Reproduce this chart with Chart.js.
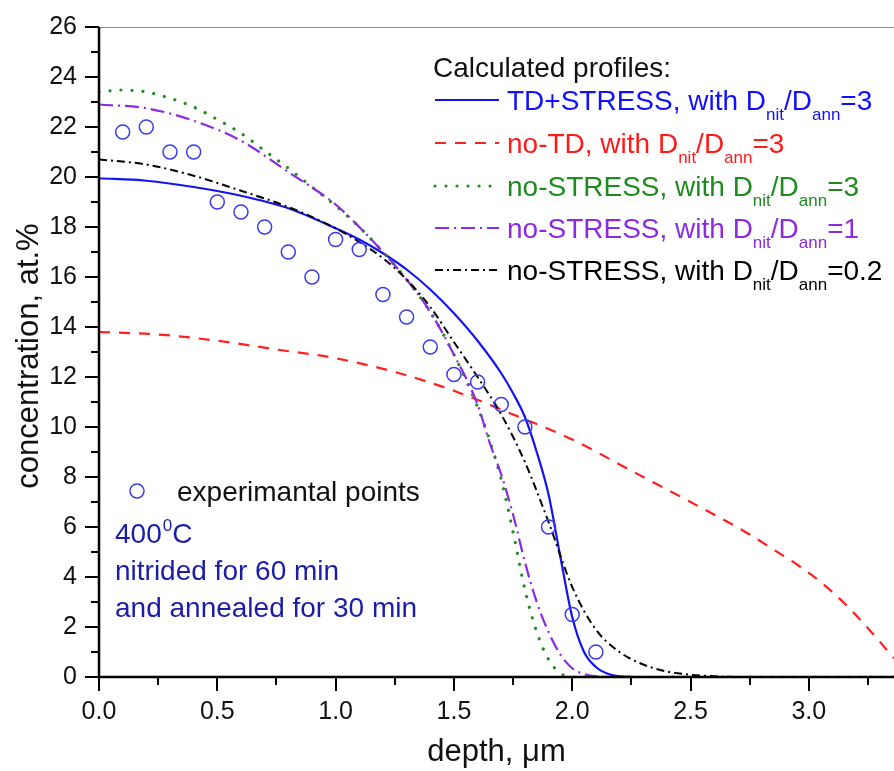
<!DOCTYPE html>
<html>
<head>
<meta charset="utf-8">
<script src="https://cdn.jsdelivr.net/npm/chart.js@4.4.1/dist/chart.umd.min.js"></script>
<style>
  html, body { margin: 0; padding: 0; background: #ffffff; }
  #c { display: block; }
</style>
</head>
<body>
<canvas id="c" width="894" height="771" style="width:894px;height:771px"></canvas>
<script>
// ---------------- data ----------------
const xTickLabels = ['0.0', '0.5', '1.0', '1.5', '2.0', '2.5', '3.0'];
const yTickLabels = ['0', '2', '4', '6', '8', '10', '12', '14', '16', '18', '20', '22', '24', '26'];

// experimental points
const expDepth = [0.1, 0.2, 0.3, 0.4, 0.5, 0.6, 0.7, 0.8, 0.9, 1.0, 1.1, 1.2, 1.3, 1.4, 1.5, 1.6, 1.7, 1.8, 1.9, 2.0, 2.1];
const expConc  = [21.8, 22.0, 21.0, 21.0, 19.0, 18.6, 18.0, 17.0, 16.0, 17.5, 17.1, 15.3, 14.4, 13.2, 12.1, 11.8, 10.9, 10.0, 6.0, 2.5, 1.0];

// TD+STRESS, Dnit/Dann = 3 (blue solid)
const tdStressDepth = [0, 0.2, 0.4, 0.6, 0.8, 1.0, 1.1, 1.2, 1.3, 1.4, 1.5, 1.6, 1.7, 1.75, 1.8, 1.85, 1.9, 1.95, 2.0, 2.05, 2.1, 2.15, 2.2, 2.3, 3.36];
const tdStressConc  = [19.95, 19.85, 19.6, 19.25, 18.75, 17.95, 17.5, 16.95, 16.3, 15.5, 14.55, 13.45, 12.15, 11.35, 10.4, 9.0, 7.3, 4.8, 2.4, 1.0, 0.4, 0.13, 0.03, 0, 0];

// no-TD, Dnit/Dann = 3 (red dashed)
const noTdDepth = [0, 0.25, 0.5, 0.75, 1.0, 1.25, 1.5, 1.75, 2.0, 2.25, 2.5, 2.75, 2.85, 2.95, 3.05, 3.15, 3.25, 3.36];
const noTdConc  = [13.8, 13.7, 13.45, 13.1, 12.75, 12.2, 11.45, 10.5, 9.5, 8.25, 7.0, 5.7, 5.1, 4.5, 3.8, 2.95, 1.95, 0.75];

// no-STRESS, Dnit/Dann = 3 (green dotted)
const noStress3Depth = [0, 0.1, 0.2, 0.3, 0.4, 0.5, 0.6, 0.7, 0.8, 0.9, 1.0, 1.1, 1.2, 1.3, 1.4, 1.5, 1.6, 1.65, 1.7, 1.75, 1.8, 1.85, 1.9, 1.95, 2.0, 3.36];
const noStress3Conc  = [23.4, 23.48, 23.4, 23.15, 22.8, 22.3, 21.75, 21.05, 20.35, 19.6, 18.85, 18.0, 17.0, 15.9, 14.6, 12.9, 10.8, 9.5, 7.9, 5.8, 3.5, 1.8, 0.7, 0.15, 0, 0];

// no-STRESS, Dnit/Dann = 1 (purple dash-dot)
const noStress1Depth = [0, 0.2, 0.4, 0.6, 0.8, 1.0, 1.1, 1.2, 1.3, 1.4, 1.5, 1.6, 1.65, 1.7, 1.75, 1.8, 1.85, 1.9, 1.95, 2.0, 2.05, 2.1, 2.2, 3.36];
const noStress1Conc  = [22.9, 22.75, 22.25, 21.45, 20.2, 18.9, 18.0, 17.0, 15.9, 14.6, 12.9, 10.9, 9.4, 8.1, 6.5, 4.6, 3.0, 1.8, 0.9, 0.35, 0.12, 0.03, 0, 0];

// no-STRESS, Dnit/Dann = 0.2 (black dash-dot)
const noStress02Depth = [0, 0.2, 0.4, 0.6, 0.8, 1.0, 1.1, 1.2, 1.3, 1.4, 1.5, 1.6, 1.7, 1.8, 1.9, 2.0, 2.1, 2.2, 2.3, 2.4, 2.5, 2.6, 2.7, 3.36];
const noStress02Conc  = [20.7, 20.5, 20.05, 19.45, 18.8, 17.95, 17.4, 16.75, 15.9, 14.8, 13.4, 12.0, 10.5, 8.6, 6.2, 3.6, 1.9, 1.0, 0.5, 0.22, 0.09, 0.03, 0, 0];

// legend / annotation texts
const legendTitle = 'Calculated profiles:';
const legendEntries = [
  { name: 'TD+STRESS, with D', ratio: '3' },
  { name: 'no-TD, with D', ratio: '3' },
  { name: 'no-STRESS, with D', ratio: '3' },
  { name: 'no-STRESS, with D', ratio: '1' },
  { name: 'no-STRESS, with D', ratio: '0.2' }
];
const xTitle = 'depth, \u03BCm';
const yTitle = 'concentration, at.%';
const expLabel = 'experimantal points';
const noteLines = ['nitrided for 60 min', 'and annealed for 30 min'];

// ---------------- styles ----------------
const FONT = "'Liberation Sans', Arial, Helvetica, sans-serif";
const C_BLUE = '#1414f0';
const C_RED = '#ff1f1f';
const C_GREEN = '#218c21';
const C_PURPLE = '#8a2be2';
const C_BLACK = '#000000';
const C_EXP = '#3a3aee';
const C_NOTE = '#1c1ca6';

const styles = [
  { color: C_BLUE,   dash: [],            width: 2.2, cap: 'butt',  textColor: '#1010ff' },
  { color: C_RED,    dash: [11, 9],       width: 2.2, cap: 'butt',  textColor: '#ff1a1a' },
  { color: C_GREEN,  dash: [0.01, 11],    width: 3.2, cap: 'round', textColor: '#1f8a1f' },
  { color: C_PURPLE, dash: [14, 5, 2, 5], width: 2.2, cap: 'butt',  textColor: '#8a2be2' },
  { color: C_BLACK,  dash: [8, 4, 2, 4],  width: 2.0, cap: 'butt',  textColor: '#000000' }
];

function pts(xs, ys) { return xs.map((x, i) => ({ x: x, y: ys[i] })); }

const curveData = [
  pts(tdStressDepth, tdStressConc),
  pts(noTdDepth, noTdConc),
  pts(noStress3Depth, noStress3Conc),
  pts(noStress1Depth, noStress1Conc),
  pts(noStress02Depth, noStress02Conc)
];

const datasets = curveData.map((d, i) => ({
  type: 'line',
  data: d,
  borderColor: styles[i].color,
  borderWidth: styles[i].width,
  borderDash: styles[i].dash,
  borderCapStyle: styles[i].cap,
  pointRadius: 0,
  fill: false,
  cubicInterpolationMode: 'monotone',
  order: 5 - i
}));

datasets.push({
  type: 'scatter',
  data: pts(expDepth, expConc),
  showLine: false,
  pointStyle: 'circle',
  pointRadius: 7,
  pointBorderWidth: 1.5,
  pointBorderColor: C_EXP,
  pointBackgroundColor: 'rgba(0,0,0,0)',
  order: 0
});

// ---------------- decoration plugin ----------------
function drawRatioText(ctx, x, y, name, ratio, color, size) {
  const subSize = Math.round(size * 0.6);
  ctx.fillStyle = color;
  ctx.textBaseline = 'alphabetic';
  ctx.textAlign = 'left';
  const parts = [
    { t: name, s: size, dy: 0 },
    { t: 'nit', s: subSize, dy: 10 },
    { t: '/D', s: size, dy: 0 },
    { t: 'ann', s: subSize, dy: 10 },
    { t: '=' + ratio, s: size, dy: 0 }
  ];
  let cx = x;
  parts.forEach(p => {
    ctx.font = p.s + 'px ' + FONT;
    ctx.fillText(p.t, cx, y + p.dy);
    cx += ctx.measureText(p.t).width;
  });
}

const decor = {
  id: 'decor',
  afterDatasetsDraw(chart) {
    const ctx = chart.ctx;
    const xs = chart.scales.x, ys = chart.scales.y;
    const area = chart.chartArea;
    ctx.save();

    // top frame line (thin grey)
    ctx.strokeStyle = '#8c8c8c';
    ctx.lineWidth = 1;
    ctx.beginPath();
    ctx.moveTo(area.left, area.top + 0.5);
    ctx.lineTo(chart.width, area.top + 0.5);
    ctx.stroke();

    // axes lines
    ctx.strokeStyle = '#000';
    ctx.lineWidth = 2.5;
    ctx.lineCap = 'butt';
    ctx.beginPath();
    ctx.moveTo(area.left, area.top);
    ctx.lineTo(area.left, area.bottom + 1.25);
    ctx.moveTo(area.left - 1.25, area.bottom);
    ctx.lineTo(chart.width, area.bottom);
    ctx.stroke();

    // ticks
    ctx.lineWidth = 2;
    ctx.beginPath();
    for (let v = 0; v <= 26; v += 1) {
      const py = Math.round(ys.getPixelForValue(v));
      const len = (v % 2 === 0) ? 14 : 8;
      ctx.moveTo(area.left, py);
      ctx.lineTo(area.left - len, py);
    }
    for (let k = 0; k <= 13; k++) {
      const v = k * 0.25;
      const px = Math.round(xs.getPixelForValue(v));
      const len = (k % 2 === 0) ? 14 : 8;
      ctx.moveTo(px, area.bottom);
      ctx.lineTo(px, area.bottom + len);
    }
    ctx.stroke();

    // axis titles
    ctx.fillStyle = '#111';
    ctx.font = '31px ' + FONT;
    ctx.textAlign = 'center';
    ctx.textBaseline = 'middle';
    ctx.fillText(xTitle, (area.left + area.right) / 2, 752);
    ctx.save();
    ctx.translate(29, 356);
    ctx.rotate(-Math.PI / 2);
    ctx.fillText(yTitle, 0, 0);
    ctx.restore();

    // legend
    ctx.textAlign = 'left';
    ctx.textBaseline = 'alphabetic';
    ctx.fillStyle = '#111';
    ctx.font = '28px ' + FONT;
    ctx.fillText(legendTitle, 433, 77);
    const baselines = [110, 153, 196, 238, 280];
    legendEntries.forEach((e, i) => {
      const st = styles[i];
      const yb = baselines[i];
      const ly = yb - 10;
      ctx.save();
      ctx.strokeStyle = st.color;
      ctx.lineWidth = st.width;
      ctx.lineCap = st.cap;
      ctx.setLineDash(st.dash);
      ctx.beginPath();
      ctx.moveTo(435, ly);
      ctx.lineTo(499, ly);
      ctx.stroke();
      ctx.restore();
      drawRatioText(ctx, 507, yb, e.name, e.ratio, st.textColor, 28);
    });

    // experimental points label
    ctx.save();
    ctx.strokeStyle = C_EXP;
    ctx.lineWidth = 1.5;
    ctx.beginPath();
    ctx.arc(137, 491, 7, 0, Math.PI * 2);
    ctx.stroke();
    ctx.restore();
    ctx.fillStyle = '#111';
    ctx.font = '28px ' + FONT;
    ctx.fillText(expLabel, 177, 501);

    // conditions note
    ctx.fillStyle = C_NOTE;
    ctx.font = '28px ' + FONT;
    let cx = 115;
    ctx.fillText('400', cx, 543);
    cx += ctx.measureText('400').width;
    ctx.font = '17px ' + FONT;
    ctx.fillText('0', cx + 1, 531);
    cx += ctx.measureText('0').width + 1;
    ctx.font = '28px ' + FONT;
    ctx.fillText('C', cx, 543);
    ctx.fillText(noteLines[0], 115, 580);
    ctx.fillText(noteLines[1], 115, 617);

    ctx.restore();
  }
};

// ---------------- chart ----------------
const chart = new Chart(document.getElementById('c').getContext('2d'), {
  type: 'line',
  data: { datasets: datasets },
  options: {
    responsive: false,
    animation: false,
    devicePixelRatio: 1,
    layout: { autoPadding: false, padding: { left: 0, top: 27, right: 0, bottom: 0 } },
    plugins: { legend: { display: false }, tooltip: { enabled: false }, title: { display: false } },
    scales: {
      x: {
        type: 'linear',
        min: 0,
        max: 3.36,
        grid: { display: false, drawTicks: false },
        border: { display: false },
        ticks: {
          stepSize: 0.5,
          includeBounds: false,
          autoSkip: false,
          maxRotation: 0,
          padding: 20,
          color: '#111',
          font: { size: 25, family: FONT },
          callback: (v) => {
            const i = Math.round(v / 0.5);
            return (Math.abs(v - i * 0.5) < 1e-6 && i < xTickLabels.length) ? xTickLabels[i] : '';
          }
        },
        afterFit: (s) => { s.height = 94; s.paddingLeft = 0; s.paddingRight = 0; }
      },
      y: {
        type: 'linear',
        min: 0,
        max: 26,
        grid: { display: false, drawTicks: false },
        border: { display: false },
        ticks: {
          stepSize: 2,
          autoSkip: false,
          padding: 22,
          color: '#111',
          font: { size: 25, family: FONT },
          callback: (v) => {
            const i = Math.round(v / 2);
            return yTickLabels[i] !== undefined ? yTickLabels[i] : '';
          }
        },
        afterFit: (s) => { s.width = 99; s.paddingTop = 0; s.paddingBottom = 0; }
      }
    }
  },
  plugins: [decor]
});
</script>
</body>
</html>
